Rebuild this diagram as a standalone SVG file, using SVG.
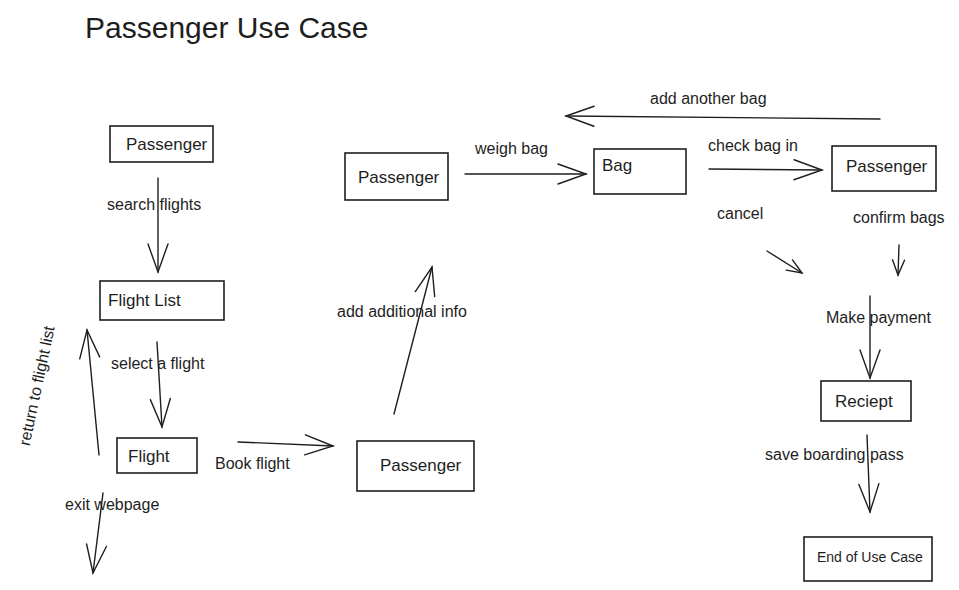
<svg xmlns="http://www.w3.org/2000/svg" width="959" height="590" viewBox="0 0 959 590">
<style>
text{font-family:"Liberation Sans",Arial,sans-serif;fill:#1e1e1e;font-size:17px}
.title{font-size:30px}
.box{fill:#fff;stroke:#1e1e1e;stroke-width:1.6}
.c{fill:none;stroke:#1e1e1e;stroke-width:1.4;stroke-linecap:round}
.lbl{font-size:16px}
</style>
<defs>
<marker id="ah" markerUnits="userSpaceOnUse" markerWidth="40" markerHeight="30" refX="0" refY="0" viewBox="-32 -15 40 30" orient="auto" overflow="visible">
<path d="M-28,-10 L0,0 L-28,10" fill="none" stroke="#1e1e1e" stroke-width="1.4" stroke-linecap="round"/>
</marker>
<marker id="ahs" markerUnits="userSpaceOnUse" markerWidth="30" markerHeight="20" refX="0" refY="0" viewBox="-20 -10 30 20" orient="auto" overflow="visible">
<path d="M-15,-6 L0,0 L-15,6" fill="none" stroke="#1e1e1e" stroke-width="1.4" stroke-linecap="round"/>
</marker>
</defs>
<rect width="959" height="590" fill="#fff"/>
<text class="title" x="85" y="38">Passenger Use Case</text>

<g id="connectors">
<path class="c" d="M158,178 L158,272" marker-end="url(#ah)"/>
<path class="c" d="M157,342 L162,427" marker-end="url(#ah)"/>
<path class="c" d="M99,455 L87,330" marker-end="url(#ah)"/>
<path class="c" d="M103,493 L93,573" marker-end="url(#ah)"/>
<path class="c" d="M238,442 L333,446" marker-end="url(#ah)"/>
<path class="c" d="M394,414 L432,267" marker-end="url(#ah)"/>
<path class="c" d="M465,174 L586,174" marker-end="url(#ah)"/>
<path class="c" d="M709,169 L822,170" marker-end="url(#ah)"/>
<path class="c" d="M880,119 L566,116" marker-end="url(#ah)"/>
<path class="c" d="M767,251 L802,273" marker-end="url(#ahs)"/>
<path class="c" d="M899,245 L898,275" marker-end="url(#ahs)"/>
<path class="c" d="M870,296 L870,378" marker-end="url(#ah)"/>
<path class="c" d="M867,435 L870,512" marker-end="url(#ah)"/>
<text class="lbl" x="107" y="210">search flights</text>
<text class="lbl" x="111" y="369">select a flight</text>
<text class="lbl" transform="translate(38,386) rotate(-78)" text-anchor="middle" dominant-baseline="middle">return to flight list</text>
<text class="lbl" x="65" y="510">exit webpage</text>
<text class="lbl" x="215" y="469">Book flight</text>
<text class="lbl" x="337" y="317">add additional info</text>
<text class="lbl" x="475" y="154">weigh bag</text>
<text class="lbl" x="708" y="151">check bag in</text>
<text class="lbl" x="650" y="104">add another bag</text>
<text class="lbl" x="717" y="219">cancel</text>
<text class="lbl" x="853" y="223">confirm bags</text>
<text class="lbl" x="826" y="323">Make payment</text>
<text class="lbl" x="765" y="460">save boarding pass</text>
</g>

<g id="passenger1">
<rect class="box" x="110" y="126" width="103" height="36"/>
<text x="126" y="150">Passenger</text>
</g>
<g id="flightlist">
<rect class="box" x="100" y="281" width="124" height="39"/>
<text x="108" y="306">Flight List</text>
</g>
<g id="flight">
<rect class="box" x="117" y="438" width="80" height="35"/>
<text x="128" y="462">Flight</text>
</g>
<g id="passenger3">
<rect class="box" x="357" y="441" width="117" height="50"/>
<text x="380" y="471">Passenger</text>
</g>
<g id="passenger2">
<rect class="box" x="345" y="153" width="103" height="47"/>
<text x="358" y="183">Passenger</text>
</g>
<g id="bag">
<rect class="box" x="594" y="149" width="92" height="45"/>
<text x="602" y="171">Bag</text>
</g>
<g id="passenger4">
<rect class="box" x="832" y="146" width="104" height="45"/>
<text x="846" y="172">Passenger</text>
</g>
<g id="receipt">
<rect class="box" x="821" y="381" width="90" height="40"/>
<text x="835" y="407">Reciept</text>
</g>
<g id="end">
<rect class="box" x="804" y="537" width="128" height="44"/>
<text x="817" y="562" style="font-size:14px">End of Use Case</text>
</g>
</svg>
